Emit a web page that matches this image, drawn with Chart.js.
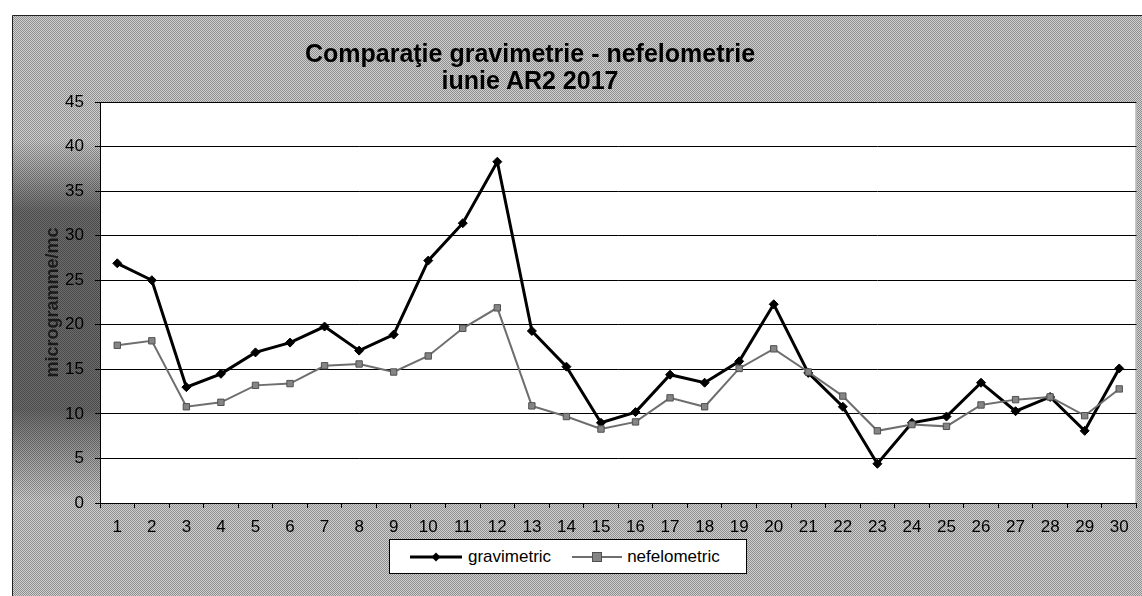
<!DOCTYPE html>
<html>
<head>
<meta charset="utf-8">
<script src="https://cdn.jsdelivr.net/npm/chart.js@4.4.0/dist/chart.umd.min.js"></script>
<style>
body { margin: 0; background: #fff; }
#wrap { position: relative; width: 1142px; height: 596px; font-family: "Liberation Sans", Arial, sans-serif; }
#chart { position: absolute; left: 0; top: 0; }
#title { position: absolute; left: 180px; width: 700px; top: 40px; text-align: center; font-weight: bold; font-size: 25px; line-height: 27px; color: #000; }
#legend { position: absolute; left: 389px; top: 539px; width: 356px; height: 33px; background: #fff; border: 1px solid #000; display: flex; align-items: center; font-size: 17px; color: #000; }
#legend .item { display: flex; align-items: center; }
#legend svg { display: block; }
</style>
</head>
<body>
<div id="wrap">
  <canvas id="chart" width="1142" height="596"></canvas>
  <div id="title">Comparaţie gravimetrie - nefelometrie<br>iunie AR2 2017</div>
  <div id="legend"></div>
</div>
<script>
// ===== Data =====
const days = ['1','2','3','4','5','6','7','8','9','10','11','12','13','14','15','16','17','18','19','20','21','22','23','24','25','26','27','28','29','30'];
const gravimetric = [26.9, 25.0, 13.0, 14.5, 16.9, 18.0, 19.8, 17.1, 18.9, 27.2, 31.4, 38.3, 19.3, 15.3, 9.0, 10.2, 14.4, 13.5, 15.9, 22.3, 14.6, 10.8, 4.4, 9.0, 9.7, 13.5, 10.3, 11.9, 8.1, 15.1];
const nefelometric = [17.7, 18.2, 10.8, 11.3, 13.2, 13.4, 15.4, 15.6, 14.7, 16.5, 19.6, 21.9, 10.9, 9.7, 8.3, 9.1, 11.8, 10.8, 15.1, 17.3, 14.7, 12.0, 8.1, 8.8, 8.6, 11.0, 11.6, 11.9, 9.8, 12.8];
const yMin = 0, yMax = 45, yStep = 5;

// ===== Dithered gray background like the scanned original =====
const makeDither = (ctx) => {
    const c = document.createElement('canvas');
    c.width = 2; c.height = 2;
    const g = c.getContext('2d');
    g.fillStyle = '#d0d0d0'; g.fillRect(0, 0, 2, 2);
    g.fillStyle = '#8e8e8e'; g.fillRect(0, 0, 1, 1); g.fillRect(1, 1, 1, 1);
    return ctx.createPattern(c, 'repeat');
};

const backdrop = {
    id: 'backdrop',
    beforeDraw(chart) {
        const { ctx, chartArea: a, width, height } = chart;
        ctx.save();
        ctx.fillStyle = '#fff';
        ctx.fillRect(0, 0, width, height);
        ctx.fillStyle = makeDither(ctx);
        ctx.fillRect(12, 15, width - 12, height - 15);
        // darker band behind the y axis title
        const grad = ctx.createLinearGradient(0, 140, 0, 500);
        grad.addColorStop(0, 'rgba(0,0,0,0)');
        grad.addColorStop(0.2, 'rgba(0,0,0,0.48)');
        grad.addColorStop(0.75, 'rgba(0,0,0,0.48)');
        grad.addColorStop(1, 'rgba(0,0,0,0)');
        ctx.fillStyle = grad;
        ctx.fillRect(12, 140, a.left - 12, 360);
        ctx.strokeStyle = '#222';
        ctx.lineWidth = 1;
        ctx.beginPath();
        ctx.moveTo(12.5, height); ctx.lineTo(12.5, 15.5); ctx.lineTo(width, 15.5);
        ctx.stroke();
        ctx.fillStyle = '#fff';
        ctx.fillRect(a.left, a.top, a.right - a.left, a.bottom - a.top);
        ctx.strokeStyle = '#999';
        ctx.beginPath();
        ctx.moveTo(a.right - 0.5, a.top); ctx.lineTo(a.right - 0.5, a.bottom);
        ctx.stroke();
        ctx.restore();
    }
};

const GRAV = { line: '#000', point: '#000' };
const NEF = { line: '#6e6e6e', point: '#858585', pointBorder: '#505050' };

const chart = new Chart(document.getElementById('chart'), {
    type: 'line',
    data: {
        labels: days,
        datasets: [
            {
                label: 'gravimetric', data: gravimetric, order: 1,
                borderColor: GRAV.line, borderWidth: 3, tension: 0,
                pointStyle: 'rectRot', pointRadius: 4.5, pointBackgroundColor: GRAV.point, pointBorderColor: GRAV.point, pointBorderWidth: 1
            },
            {
                label: 'nefelometric', data: nefelometric, order: 0,
                borderColor: NEF.line, borderWidth: 2, tension: 0,
                pointStyle: 'rect', pointRadius: 4.5, pointBackgroundColor: NEF.point, pointBorderColor: NEF.pointBorder, pointBorderWidth: 1
            }
        ]
    },
    options: {
        responsive: false,
        animation: false,
        devicePixelRatio: 1,
        layout: { padding: { left: 42, right: 0, top: 102, bottom: 53 } },
        plugins: { legend: { display: false }, title: { display: false }, tooltip: { enabled: false } },
        scales: {
            x: {
                offset: true,
                afterFit: s => { s.height = 40; },
                grid: { offset: true, drawOnChartArea: false, drawTicks: true, tickLength: 5, color: '#000' },
                border: { color: '#000', width: 1 },
                ticks: { color: '#000', font: { family: 'Liberation Sans', size: 17 }, padding: 9, maxRotation: 0, autoSkip: false }
            },
            y: {
                min: yMin, max: yMax,
                afterFit: s => { s.width = 58; },
                grid: { color: '#000', lineWidth: 1, tickLength: 5 },
                border: { color: '#000', width: 1 },
                ticks: { stepSize: yStep, color: '#000', font: { family: 'Liberation Sans', size: 17 }, padding: 11 },
                title: { display: true, text: 'microgramme/mc', color: '#1a1a1a', font: { family: 'Liberation Sans', size: 18, weight: 'bold' }, padding: 0 }
            }
        }
    },
    plugins: [backdrop]
});

// ===== Legend (HTML, built from dataset styles) =====
const legendSvg = (ds, w) => {
    const h = 14, cx = w / 2, cy = h / 2, r = ds.pointRadius;
    const marker = ds.pointStyle === 'rectRot'
        ? `<polygon points="${cx},${cy - r} ${cx + r},${cy} ${cx},${cy + r} ${cx - r},${cy}" fill="${ds.pointBackgroundColor}"/>`
        : `<rect x="${cx - r}" y="${cy - r}" width="${2 * r}" height="${2 * r}" fill="${ds.pointBackgroundColor}" stroke="${ds.pointBorderColor}"/>`;
    return `<svg width="${w}" height="${h}"><line x1="0" y1="${cy}" x2="${w}" y2="${cy}" stroke="${ds.borderColor}" stroke-width="${ds.borderWidth}"/>${marker}</svg>`;
};
const [g, n] = chart.data.datasets;
document.getElementById('legend').innerHTML = `
    <div class="item" style="margin-left:20px">${legendSvg(g, 52)}<span style="margin-left:6px">${g.label}</span></div>
    <div class="item" style="margin-left:21px">${legendSvg(n, 50)}<span style="margin-left:5px">${n.label}</span></div>
`;
</script>
</body>
</html>
